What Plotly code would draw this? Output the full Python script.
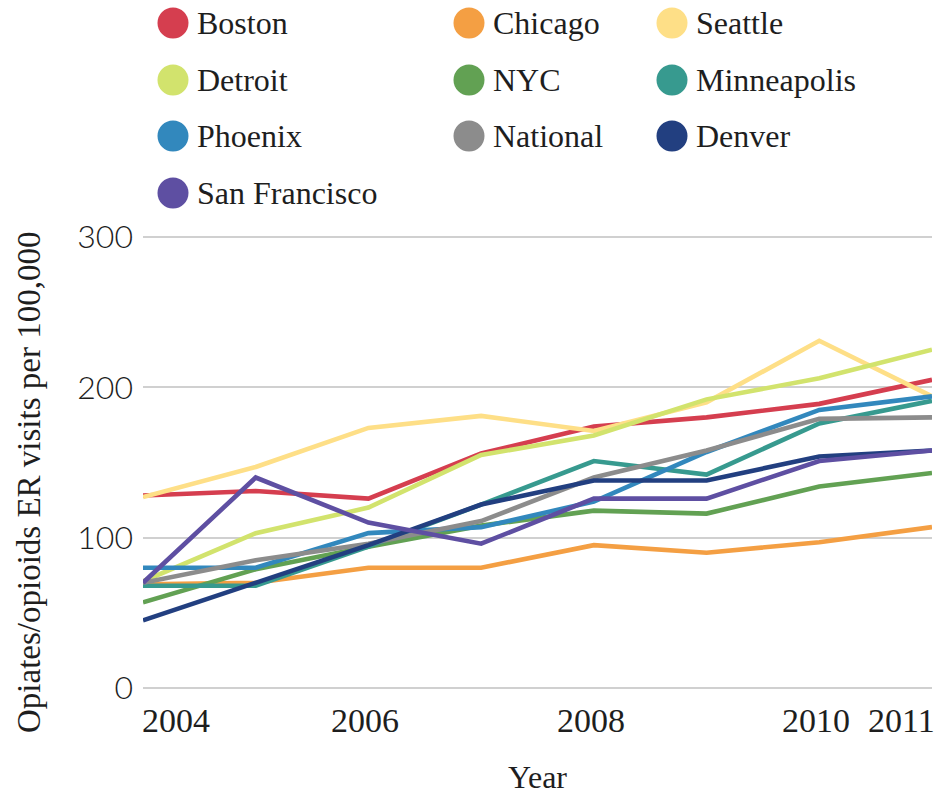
import plotly.graph_objects as go

# Opiate/opioid-related ER visits per 100,000 residents, by city
years = [2004, 2005, 2006, 2007, 2008, 2009, 2010, 2011]

boston = [128, 131, 126, 156, 174, 180, 189, 205]
chicago = [69, 70, 80, 80, 95, 90, 97, 107]
seattle = [127, 147, 173, 181, 171, 190, 231, 194]
detroit = [71, 103, 120, 155, 168, 192, 206, 225]
nyc = [57, 79, 94, 108, 118, 116, 134, 143]
minneapolis = [68, 68, 94, 122, 151, 142, 176, 191]
phoenix = [80, 80, 103, 107, 124, 157, 185, 194]
national = [70, 85, 96, 111, 140, 158, 179, 180]
denver = [45, 70, 95, 122, 138, 138, 154, 158]
san_francisco = [70, 140, 110, 96, 126, 126, 151, 158]

cities = ["Boston", "Chicago", "Seattle", "Detroit", "NYC",
          "Minneapolis", "Phoenix", "National", "Denver", "San Francisco"]
series = [boston, chicago, seattle, detroit, nyc,
          minneapolis, phoenix, national, denver, san_francisco]
colors = ["#d53e4f", "#f49f43", "#fedf87", "#d2e36d", "#62a153",
          "#379a8f", "#3288bd", "#8c8c8c", "#223f80", "#5e4fa2"]

x_tick_years = [2004, 2006, 2008, 2010, 2011]
y_ticks = [0, 100, 200, 300]

SERIF = "Liberation Serif"
SANS = "Lato"
TEXT = "#1e1e1e"

W, H = 937, 795
# plot area in pixels
L, R, T, B = 143, 932, 234, 691
Y_MIN, Y_MAX = -2, 302

fig = go.Figure()
for name, vals, col in zip(cities, series, colors):
    fig.add_trace(go.Scatter(
        x=years, y=vals, name=name, mode="lines",
        line=dict(color=col, width=4.6),
        showlegend=False,
    ))


def px_to_paper(px, py):
    return (px - L) / (R - L), (B - py) / (B - T)


# Custom legend: large circles with labels in a 3-column grid
col_x = [173, 469, 672]
row_y = [23, 80, 136, 193]
shapes = []
annotations = []
for i, (name, col) in enumerate(zip(cities, colors)):
    cx, cy = col_x[i % 3], row_y[i // 3]
    ax, ay = px_to_paper(cx, cy)
    r = 15.5
    shapes.append(dict(
        type="circle", xref="paper", yref="paper",
        xsizemode="pixel", ysizemode="pixel",
        xanchor=ax, yanchor=ay,
        x0=-r, x1=r, y0=-r, y1=r,
        fillcolor=col, line=dict(width=0),
    ))
    tx, ty = px_to_paper(cx + 22, cy)
    annotations.append(dict(
        xref="paper", yref="paper", x=tx, y=ty,
        xanchor="left", yanchor="middle", showarrow=False,
        text=name, font=dict(family=SERIF, size=32, color=TEXT),
    ))

# x tick labels, kept inside the plotting width at both ends
for yr in x_tick_years:
    if yr == x_tick_years[0]:
        anchor, shift = "left", -3
    elif yr == x_tick_years[-1]:
        anchor, shift = "right", 5
    else:
        anchor, shift = "center", -3
    annotations.append(dict(
        xref="x", yref="paper", x=yr, y=0, yshift=-9,
        xanchor=anchor, yanchor="top", xshift=shift, showarrow=False,
        text=str(yr), font=dict(family=SERIF, size=34, color=TEXT),
    ))

# rotated y-axis title
tx, ty = px_to_paper(29, 483)
annotations.append(dict(
    xref="paper", yref="paper", x=tx, y=ty,
    xanchor="center", yanchor="middle", showarrow=False, textangle=-90,
    text="Opiates/opioids ER visits per 100,000",
    font=dict(family=SERIF, size=33, color=TEXT),
))

fig.update_layout(
    width=W, height=H,
    margin=dict(l=L, r=W - R, t=T, b=H - B),
    paper_bgcolor="white", plot_bgcolor="white",
    font=dict(family=SERIF, color=TEXT),
    shapes=shapes, annotations=annotations,
    xaxis=dict(
        range=[2004, 2011], showgrid=False, zeroline=False,
        showticklabels=False, showline=False,
        title=dict(text="Year", font=dict(family=SERIF, size=32, color=TEXT),
                   standoff=74),
    ),
    yaxis=dict(
        range=[Y_MIN, Y_MAX], tickvals=y_ticks,
        showgrid=True, gridcolor="#d0d0d0", gridwidth=2,
        zeroline=False, showline=False,
        tickfont=dict(family=SANS, size=32, color=TEXT, weight=300),
        ticklabelstandoff=9,
    ),
)

fig.write_html("out.html")
